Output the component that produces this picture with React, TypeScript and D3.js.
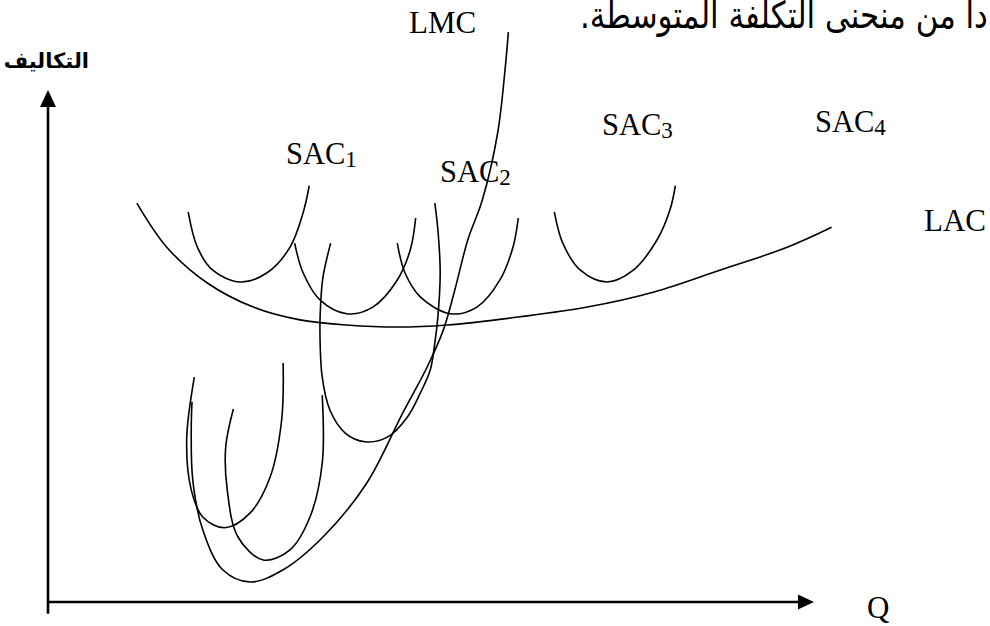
import React, { useLayoutEffect, useRef, useState } from "react";
import * as d3 from "d3";

// Data in (Q, cost) units; both axes run 0..100
const LAC: [number, number][] = [
  [11.6, 77.9], [15.5, 69.3], [20.8, 62.3], [26.8, 57.6], [32.9, 55.1], [39.0, 54.1],
  [45.6, 53.7], [52.1, 54.1], [61.6, 55.7], [70.4, 57.6], [79.0, 60.5], [87.7, 64.8],
  [96.5, 69.3], [102.3, 73.2],
];
const SAC1: [number, number][] = [
  [18.3, 76.2], [19.5, 69.3], [21.5, 64.8], [25.1, 62.5], [28.6, 64.3], [31.6, 69.3], [33.3, 76.0], [34.1, 81.3],
];
const SAC2a: [number, number][] = [
  [32.2, 70.1], [33.3, 64.3], [35.5, 59.0], [39.0, 56.3], [42.4, 57.6], [45.6, 62.9], [47.3, 68.8], [48.0, 75.0],
];
const SAC2b: [number, number][] = [
  [45.6, 70.1], [46.6, 64.3], [48.6, 59.6], [52.5, 56.3], [56.0, 57.6], [59.0, 62.9], [60.7, 69.3], [61.4, 75.0],
];
const SAC3: [number, number][] = [
  [66.1, 76.2], [67.2, 70.1], [69.5, 64.8], [73.0, 62.5], [76.4, 64.8], [79.5, 70.7], [81.2, 76.6], [81.9, 81.3],
];
const LMC: [number, number][] = [
  [18.8, 39.1], [18.7, 33.6], [18.9, 23.8], [20.2, 14.1], [22.8, 6.3], [26.4, 3.9], [30.7, 6.3],
  [35.9, 12.7], [41.6, 23.2], [46.3, 36.9], [49.5, 45.9], [51.6, 53.1], [53.1, 60.9], [54.8, 70.7],
  [56.7, 78.5], [58.7, 91.6], [59.7, 104.5], [60.1, 111.3],
];
const SMC1: [number, number][] = [
  [19.1, 43.9], [18.1, 31.6], [18.7, 21.9], [20.2, 16.6], [23.1, 14.5], [26.4, 17.4], [29.0, 24.4], [30.5, 35.5], [30.7, 46.7],
];
const SMC2: [number, number][] = [
  [24.2, 37.7], [23.2, 30.3], [23.4, 21.9], [24.8, 12.7], [28.1, 8.2], [31.6, 10.2], [34.2, 16.6], [35.8, 27.1], [35.8, 40.4],
];
const SMC3: [number, number][] = [
  [36.9, 70.1], [35.9, 63.5], [35.6, 58.4], [35.5, 53.1], [35.8, 43.9], [36.8, 37.5], [38.8, 33.0], [41.4, 31.3],
  [44.3, 32.2], [46.9, 36.1], [48.6, 40.8], [49.9, 45.3], [50.5, 50.6], [50.9, 55.7], [51.2, 64.3], [50.9, 72.7], [50.5, 77.9],
];

const CURVES = [LAC, SAC1, SAC2a, SAC2b, SAC3, LMC, SMC1, SMC2, SMC3];

const TITLE = "دا من منحنى التكلفة المتوسطة.";
const Y_LABEL = "التكاليف";
const X_LABEL = "Q";
const SAC_LABEL = "SAC";
const SAC_SUBS = ["1", "2", "3", "4"];

const W = 990;
const H = 626;

export default function App() {
  const x = d3.scaleLinear().domain([0, 100]).range([48, 814]);
  const y = d3.scaleLinear().domain([0, 100]).range([602, 90]);
  const line = d3
    .line<[number, number]>()
    .x((d) => x(d[0]))
    .y((d) => y(d[1]))
    .curve(d3.curveCatmullRom.alpha(0.5));

  const serif = "'Liberation Serif', 'Times New Roman', serif";
  const arabic = "'DejaVu Sans', sans-serif";

  const titleRef = useRef<SVGTextElement>(null);
  const [titleTf, setTitleTf] = useState("translate(580,28)");
  useLayoutEffect(() => {
    const el = titleRef.current;
    if (!el) return;
    const bb = el.getBBox();
    if (bb.width > 0) {
      const sx = 408 / bb.width;
      const sy = 1.2;
      setTitleTf(`translate(${580 - bb.x * sx},28) scale(${sx},${sy})`);
    }
  }, []);

  const sacPos = [
    { x: 286, y: 164 },
    { x: 440, y: 182 },
    { x: 602, y: 135 },
    { x: 815, y: 132 },
  ];

  return (
    <svg
      width={W}
      height={H}
      style={{ position: "absolute", left: 0, top: 0, background: "#fff" }}
    >
      <rect width={W} height={H} fill="#fff" />
      {/* title */}
      <g transform={titleTf}>
        <text
          ref={titleRef}
          x={0}
          y={0}
          fontFamily={arabic}
          fontSize={31}
          direction="rtl"
          textAnchor="end"
          style={{ direction: "rtl" }}
          fill="#000"
        >
          {TITLE}
        </text>
      </g>
      {/* y axis label */}
      <text
        x={89}
        y={68}
        fontFamily={arabic}
        fontSize={21}
        fontWeight="bold"
        direction="rtl"
        textAnchor="start"
        style={{ direction: "rtl" }}
        fill="#000"
      >
        {Y_LABEL}
      </text>

      {/* axes */}
      <line x1={x(0)} x2={x(0)} y1={y(-2.3)} y2={y(97)} stroke="#000" strokeWidth={2.6} />
      <path
        d={`M${x(0)},${y(100)} L${x(0) - 8},${y(96.7)} L${x(0) + 8},${y(96.7)} Z`}
        fill="#000"
      />
      <line x1={x(0)} x2={x(98)} y1={y(0)} y2={y(0)} stroke="#000" strokeWidth={2.6} />
      <path
        d={`M${x(100)},${y(0)} L${x(97.9)},${y(0) - 7.5} L${x(97.9)},${y(0) + 7.5} Z`}
        fill="#000"
      />

      {/* curves */}
      {CURVES.map((c, i) => (
        <path key={i} d={line(c) || ""} fill="none" stroke="#000" strokeWidth={1.6} />
      ))}

      {/* labels */}
      <text x={409} y={33} fontFamily={serif} fontSize={31} fill="#000">LMC</text>
      <text x={924} y={231} fontFamily={serif} fontSize={31} fill="#000">LAC</text>
      <text x={867} y={618} fontFamily={serif} fontSize={31} fill="#000">{X_LABEL}</text>
      {SAC_SUBS.map((s, i) => (
        <text key={s} x={sacPos[i].x} y={sacPos[i].y} fontFamily={serif} fontSize={30.5} fill="#000">
          {SAC_LABEL}
          <tspan fontSize={23} dy={3}>{s}</tspan>
        </text>
      ))}
    </svg>
  );
}
